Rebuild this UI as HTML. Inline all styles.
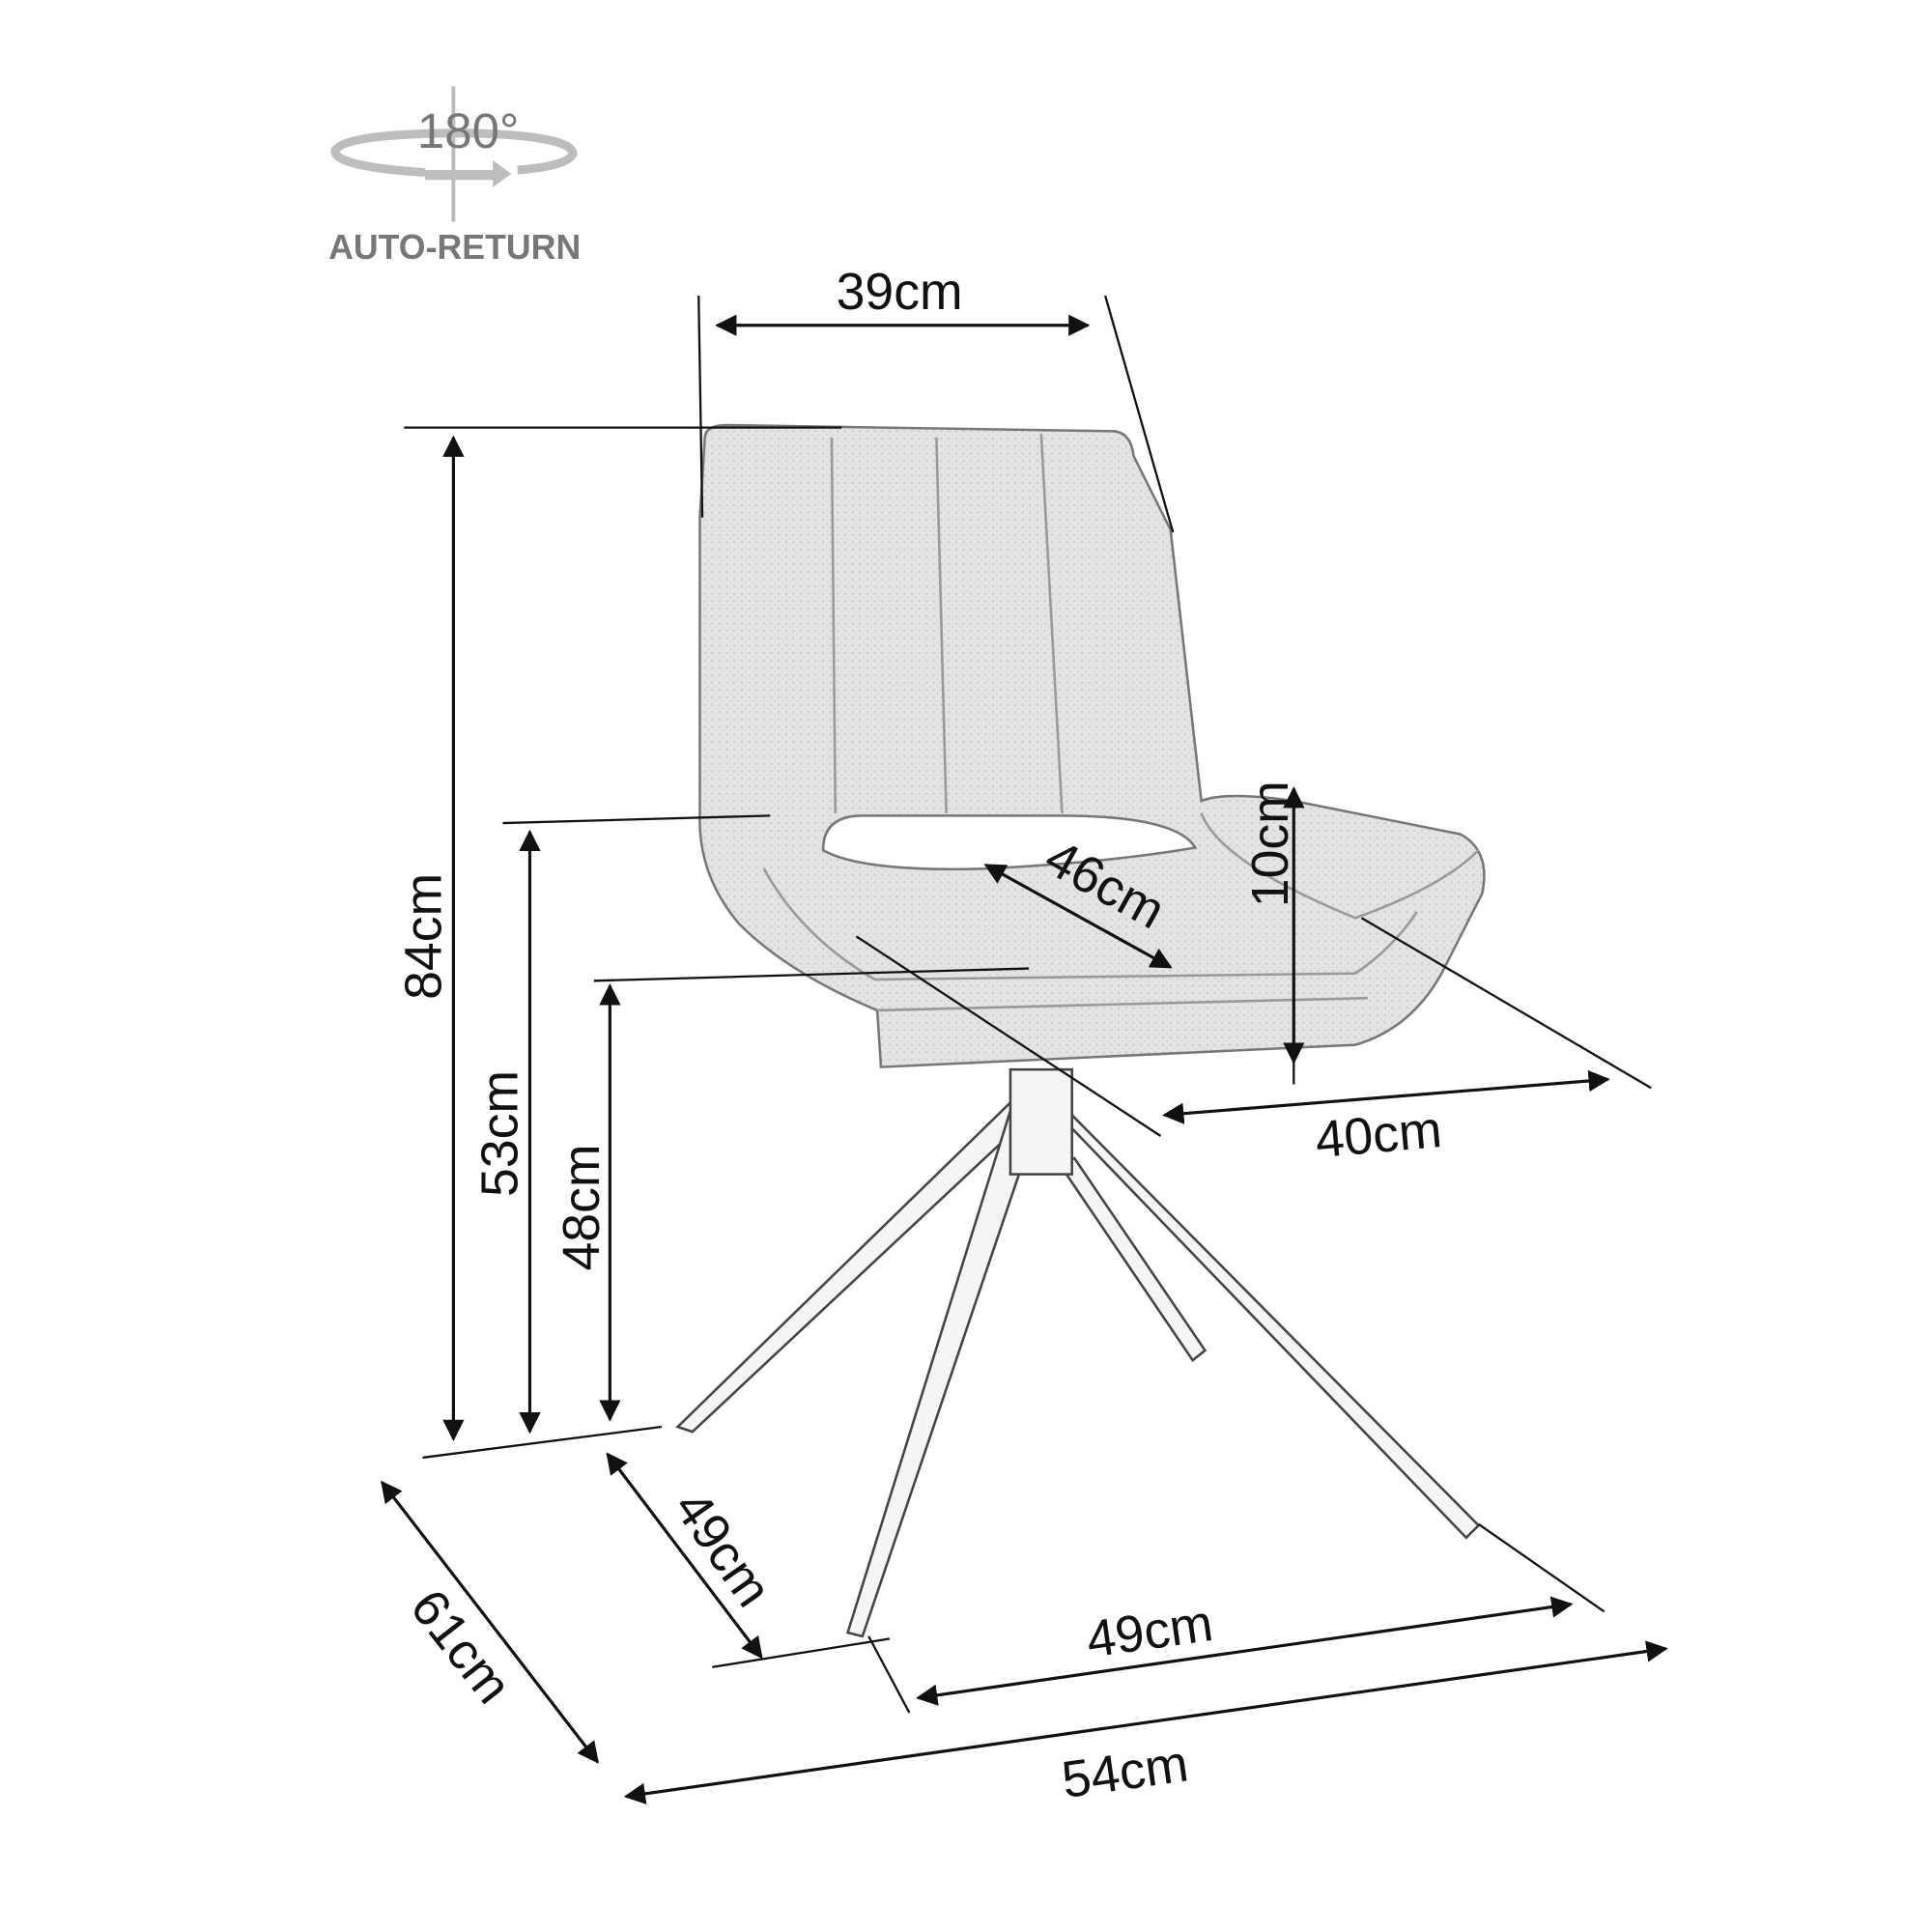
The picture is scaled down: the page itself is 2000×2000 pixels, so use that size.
<!DOCTYPE html>
<html><head><style>html,body{margin:0;padding:0;background:#fff}svg{display:block}</style></head>
<body>
<svg width="2000" height="2000" viewBox="0 0 1568 1568" xmlns="http://www.w3.org/2000/svg" font-family="Liberation Sans, sans-serif">
<defs>
<marker id="a" viewBox="0 0 10 10" refX="9" refY="5" markerWidth="7" markerHeight="7" orient="auto-start-reverse"><path d="M0,0 L10,5 L0,10 Z" fill="#111"/></marker>
<pattern id="tx" width="6" height="6" patternUnits="userSpaceOnUse"><rect width="6" height="6" fill="#e4e4e4"/><circle cx="2" cy="2" r="1" fill="#cdcdcd"/><circle cx="5" cy="5" r="0.8" fill="#d6d6d6"/></pattern>
</defs>
<g>
<line x1="368" y1="70" x2="368" y2="180" stroke="#bbb" stroke-width="3"/>
<path d="M345,140 Q270,135 272,122 Q280,108 380,108 Q465,110 465,125 Q460,135 420,138" fill="none" stroke="#bdbdbd" stroke-width="7"/>
<path d="M345,138 L400,138 L400,130 L415,141 L400,152 L400,146 L345,146 Z" fill="#bdbdbd"/>
<text x="380" y="120" font-size="40" fill="#777" text-anchor="middle" font-family="Liberation Sans Narrow, Liberation Sans, sans-serif">180°</text>
<text x="369" y="210" font-size="28" fill="#777" font-weight="bold" text-anchor="middle" font-family="Liberation Sans Narrow, Liberation Sans, sans-serif">AUTO-RETURN</text>
</g>
<g fill="#f5f5f5" stroke="#444" stroke-width="2">
<polygon points="860,945 872,940 978,1096 968,1104"/>
<polygon points="825,890 842,900 562,1162 550,1158"/>
<polygon points="850,895 870,905 1200,1238 1190,1248"/>
<polygon points="822,895 845,900 700,1328 688,1325"/>
<rect x="820" y="868" width="50" height="85"/>
</g>
<path d="M572,356 Q572,345 590,345 L905,350 Q918,352 920,370 L950,430 L975,650 Q995,642 1050,650 L1185,677 Q1210,690 1203,725 L1170,790 Q1145,835 1100,848 L715,866 L712,820 Q640,790 600,750 Q566,710 568,660 L568,420 Z" fill="url(#tx)" stroke="#777" stroke-width="2"/>
<path d="M668,690 Q668,662 700,662 L860,662 Q955,662 970,688 Q900,700 800,705 Q700,708 668,690 Z" fill="#fff" stroke="#777" stroke-width="2"/>
<g fill="none" stroke="#999" stroke-width="2">
<path d="M675,355 L678,660"/><path d="M760,355 L768,660"/><path d="M845,352 L862,660"/>
<path d="M620,705 Q650,760 710,795 L1100,790 Q1130,770 1150,740"/>
<path d="M712,820 L1110,810"/>
<path d="M975,660 Q990,700 1100,745 Q1170,720 1200,690"/>
</g>
<g stroke="#111" stroke-width="1.8" fill="none">
<line x1="567" y1="240" x2="570" y2="420"/><line x1="897" y1="240" x2="952" y2="432"/>
<line x1="328" y1="347" x2="683" y2="347"/>
<line x1="408" y1="668" x2="625" y2="662"/>
<line x1="482" y1="796" x2="835" y2="786"/>
<line x1="343" y1="1183" x2="537" y2="1158"/>
<line x1="695" y1="760" x2="942" y2="922"/><line x1="1105" y1="745" x2="1340" y2="883"/>
<line x1="1050" y1="860" x2="1050" y2="880"/>
<line x1="578" y1="1353" x2="722" y2="1330"/>
<line x1="1200" y1="1237" x2="1302" y2="1308"/><line x1="705" y1="1328" x2="738" y2="1390"/>
</g>
<g stroke="#111" stroke-width="2.5" marker-start="url(#a)" marker-end="url(#a)">
<line x1="582" y1="264" x2="883" y2="264"/>
<line x1="368" y1="355" x2="368" y2="1168"/>
<line x1="430" y1="675" x2="430" y2="1162"/>
<line x1="495" y1="800" x2="495" y2="1152"/>
<line x1="800" y1="702" x2="950" y2="785"/>
<line x1="1050" y1="640" x2="1050" y2="862"/>
<line x1="945" y1="905" x2="1305" y2="876"/>
<line x1="493" y1="1180" x2="618" y2="1345"/>
<line x1="745" y1="1378" x2="1275" y2="1302"/>
<line x1="508" y1="1458" x2="1352" y2="1338"/>
<line x1="310" y1="1203" x2="485" y2="1430"/>
</g>
<g font-size="42" fill="#111" text-anchor="middle">
<text x="730" y="251">39cm</text>
<text transform="translate(358,760) rotate(-90)">84cm</text>
<text transform="translate(420,920) rotate(-90)">53cm</text>
<text transform="translate(486,980) rotate(-90)">48cm</text>
<text transform="translate(890,730) rotate(29)">46cm</text>
<text transform="translate(1045,685) rotate(-90)">10cm</text>
<text transform="translate(1120,935) rotate(-5)">40cm</text>
<text transform="translate(575,1265) rotate(55)">49cm</text>
<text transform="translate(935,1338) rotate(-8)">49cm</text>
<text transform="translate(915,1452) rotate(-8)">54cm</text>
<text transform="translate(363,1345) rotate(52)">61cm</text>
</g>
</svg>
</body></html>
